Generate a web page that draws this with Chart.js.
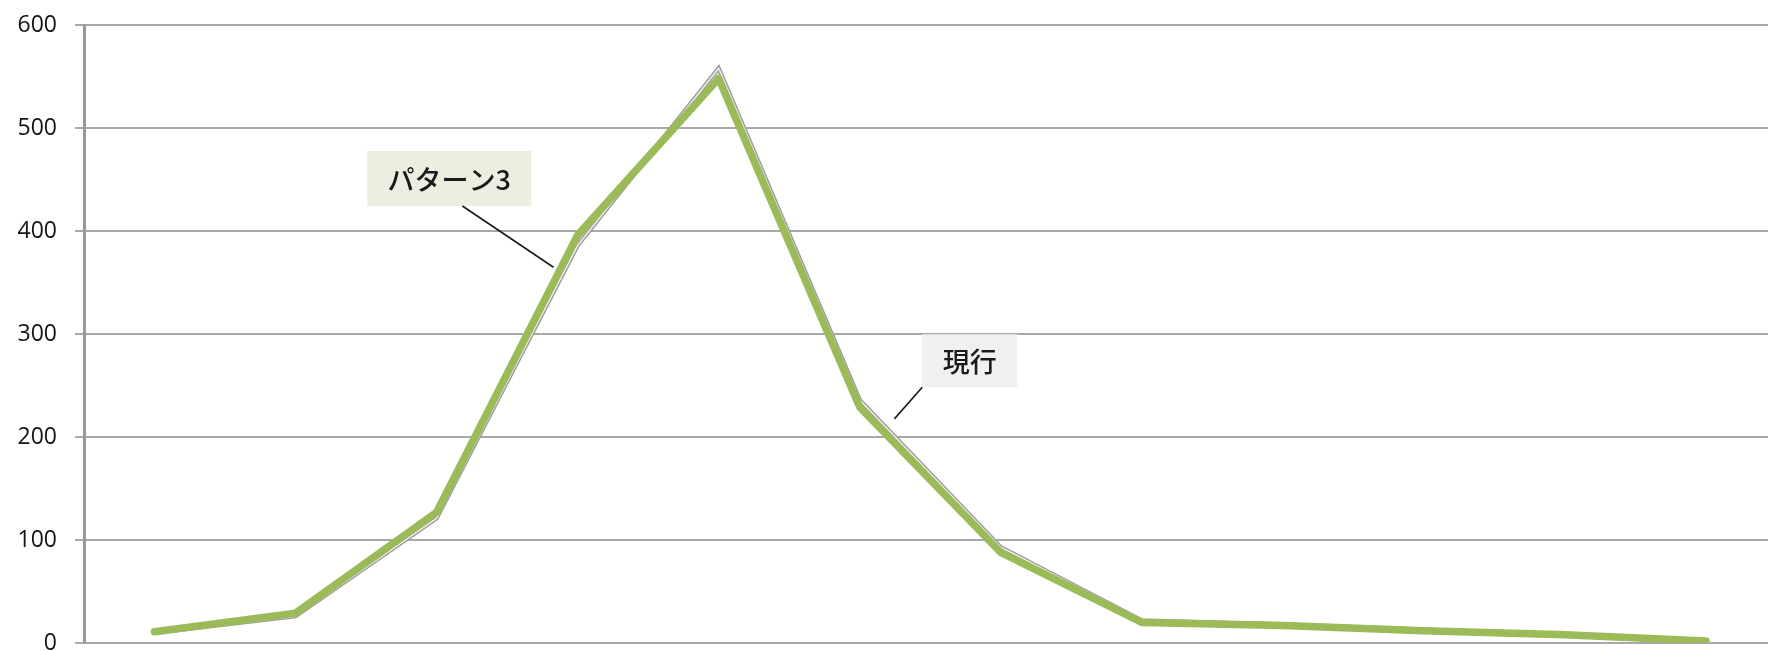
<!DOCTYPE html>
<html lang="ja">
<head>
<meta charset="utf-8">
<title>パターン3 と 現行</title>
<script src="https://cdn.jsdelivr.net/npm/chart.js@4.4.1/dist/chart.umd.min.js"></script>
<style>
  html, body { margin: 0; padding: 0; background: #ffffff; }
  #wrap { width: 1768px; height: 651px; position: relative; }
</style>
</head>
<body>
<div id="wrap"><canvas id="chart" width="1768" height="651"></canvas></div>
<script>
// Categories (the horizontal axis carries no visible labels)
const categories = ['1', '2', '3', '4', '5', '6', '7', '8', '9', '10', '11', '12'];

// Series values
const pattern3 = [11, 29, 127, 396, 548, 229, 88, 20, 17, 12, 8, 2];
const current  = [10, 26, 121, 386, 558, 236, 93, 22, 18, 13, 8, 2];

// Y axis ticks
const yTicks = [0, 100, 200, 300, 400, 500, 600];

// Series names shown as callouts
const seriesNames = ['パターン3', '現行'];

const toPoints = arr => arr.map((v, i) => ({ x: i, y: v }));

// Callouts: box centre (category index, value), and the segment of the series the leader points to
const callouts = [
  { text: seriesNames[0], series: pattern3, seg: 2, frac: 0.87, box: { x: 2.09, y: 451 },
    fill: '#EBEFDF', w: 164, h: 55, from: 'bottom', trim: 7 },
  { text: seriesNames[1], series: current, seg: 5, frac: 0.19, box: { x: 5.78, y: 274 },
    fill: '#F0F0F0', w: 95, h: 53, from: 'bottomLeft', trim: 12 }
];

const calloutPlugin = {
  id: 'callouts',
  afterDatasetsDraw(chart) {
    const { ctx, scales: { x, y } } = chart;
    ctx.save();
    callouts.forEach(c => {
      const cx = x.getPixelForValue(c.box.x);
      const cy = y.getPixelForValue(c.box.y);
      const left = cx - c.w / 2, top = cy - c.h / 2;
      // box
      ctx.fillStyle = c.fill;
      ctx.fillRect(left, top, c.w, c.h);
      // text
      ctx.fillStyle = '#1a1a1a';
      ctx.font = '500 27px "Noto Sans CJK JP", sans-serif';
      ctx.textAlign = 'center';
      ctx.textBaseline = 'middle';
      ctx.fillText(c.text, cx, cy + 1);
      // leader line
      const i = c.seg;
      const vx = i + c.frac;
      const vy = c.series[i] + (c.series[i + 1] - c.series[i]) * c.frac;
      let ex = x.getPixelForValue(vx);
      let ey = y.getPixelForValue(vy);
      const sx = c.from === 'bottom' ? left + c.w * 0.58 : left;
      const sy = top + c.h;
      const dx = ex - sx, dy = ey - sy;
      const len = Math.hypot(dx, dy);
      ex = sx + dx * (len - c.trim) / len;
      ey = sy + dy * (len - c.trim) / len;
      ctx.strokeStyle = '#1a1a1a';
      ctx.lineWidth = 1.6;
      ctx.beginPath();
      ctx.moveTo(sx, sy);
      ctx.lineTo(ex, ey);
      ctx.stroke();
    });
    ctx.restore();
  }
};

new Chart(document.getElementById('chart'), {
  type: 'line',
  data: {
    labels: categories,
    datasets: [
      {
        label: seriesNames[0],
        data: toPoints(pattern3),
        borderColor: '#9BBB59',
        borderWidth: 7.5,
        borderJoinStyle: 'round',
        borderCapStyle: 'round',
        pointRadius: 0,
        tension: 0,
        order: 0
      },
      {
        label: seriesNames[1] + ' (inner)',
        data: toPoints(current),
        borderColor: '#F4F4F4',
        borderWidth: 1.4,
        pointRadius: 0,
        tension: 0,
        order: 1
      },
      {
        label: seriesNames[1],
        data: toPoints(current),
        borderColor: '#9E9E9E',
        borderWidth: 4.4,
        borderJoinStyle: 'miter',
        pointRadius: 0,
        tension: 0,
        order: 2
      }
    ]
  },
  options: {
    responsive: false,
    animation: false,
    events: [],
    layout: { padding: { top: 25, bottom: 8, left: 0, right: 0 } },
    plugins: { legend: { display: false }, tooltip: { enabled: false } },
    scales: {
      x: {
        type: 'linear',
        display: false,
        min: -0.5,
        max: 11.44
      },
      y: {
        min: 0,
        max: 600,
        afterBuildTicks(scale) { scale.ticks = yTicks.map(v => ({ value: v })); },
        afterFit(scale) {
          scale.width = 84;
          scale.paddingTop = 0;
          scale.paddingBottom = 0;
        },
        ticks: {
          padding: 18,
          color: '#141414',
          font: { family: '"Open Sans", "Liberation Sans", sans-serif', size: 23 }
        },
        grid: {
          color: '#A8A8A8',
          lineWidth: 2,
          tickLength: 9,
          drawTicks: true
        },
        border: { color: '#999999', width: 3 }
      }
    }
  },
  plugins: [calloutPlugin]
});
</script>
</body>
</html>
